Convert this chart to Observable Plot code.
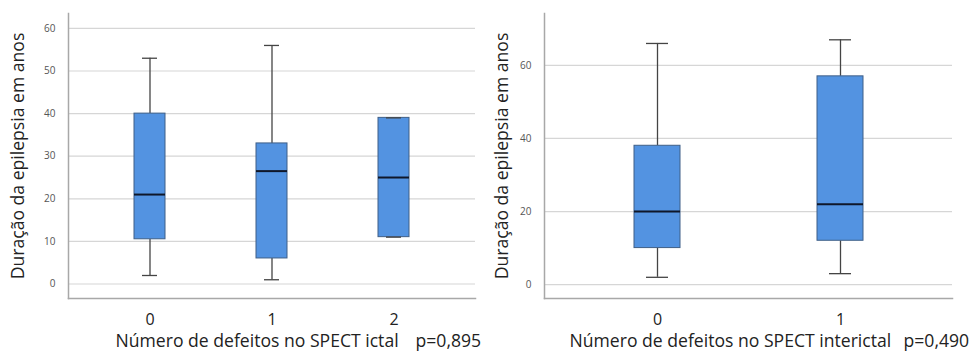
<!DOCTYPE html>
<html>
<head>
<meta charset="utf-8">
<script src="https://cdn.jsdelivr.net/npm/d3@7"></script>
<script src="https://cdn.jsdelivr.net/npm/@observablehq/plot@0.6"></script>
<style>
  html, body { margin: 0; padding: 0; background: #fff; }
  #wrap { position: relative; width: 971px; height: 352px; overflow: hidden; }
  #left, #right { position: absolute; top: 0; }
  #left { left: 0; }
  #right { left: 485px; }
  svg { overflow: visible; }
</style>
</head>
<body>
<div id="wrap"><div id="left"></div><div id="right"></div></div>
<script>
// Duration of epilepsy (years) by number of SPECT defects — five-number summaries
const ictalCategories = ["0", "1", "2"];
const ictalMin    = [2, 1, 11];
const ictalQ1     = [10.5, 6, 11];
const ictalMedian = [21, 26.5, 25];
const ictalQ3     = [40, 33, 39];
const ictalMax    = [53, 56, 39];
const ictalP = "p=0,895";

const interictalCategories = ["0", "1"];
const interictalMin    = [2, 3];
const interictalQ1     = [10, 12];
const interictalMedian = [20, 22];
const interictalQ3     = [38, 57];
const interictalMax    = [66, 67];
const interictalP = "p=0,490";

const yTicksIctal = [0, 10, 20, 30, 40, 50, 60];
const yTicksInterictal = [0, 20, 40, 60];

const yLabel = "Duração da epilepsia em anos";
const FONT = "Open Sans, sans-serif";

function summarize(cats, mn, q1, md, q3, mx) {
  return cats.map((c, i) => ({cat: c, min: mn[i], q1: q1[i], median: md[i], q3: q3[i], max: mx[i]}));
}

function boxPanel({rows, cats, width, marginLeft, marginRight, yDomain, yTicks, paddingOuter,
                   capInset, xLabel, xLabelDx, pText, pDx, yLabelDx}) {
  return Plot.plot({
    width, height: 352,
    marginTop: 13, marginBottom: 54, marginLeft, marginRight,
    style: {fontFamily: FONT, background: "white", overflow: "visible"},
    x: {type: "band", domain: cats, paddingInner: 0.75, paddingOuter, label: null},
    y: {domain: yDomain, label: null},
    marks: [
      Plot.gridY(yTicks, {stroke: "#d6d6d6", strokeOpacity: 1, strokeWidth: 1.2}),
      Plot.frame({anchor: "left", stroke: "#a8a8a8", strokeWidth: 1.5}),
      Plot.frame({anchor: "bottom", stroke: "#a8a8a8", strokeWidth: 1.5}),
      Plot.axisY(yTicks, {tickSize: 0, tickPadding: 13, fontSize: 10, fill: "#555", label: null}),
      Plot.axisX({tickSize: 0, tickPadding: 15, fontSize: 16, fill: "#222", label: null}),
      // whiskers
      Plot.ruleX(rows, {x: "cat", y1: "min", y2: "q1", stroke: "#444", strokeWidth: 1.3}),
      Plot.ruleX(rows, {x: "cat", y1: "q3", y2: "max", stroke: "#444", strokeWidth: 1.3}),
      // boxes
      Plot.barY(rows, {x: "cat", y1: "q1", y2: "q3", fill: "#5393e1", stroke: "#3f5f87", strokeWidth: 1}),
      // whisker caps
      Plot.tickY(rows, {x: "cat", y: "min", stroke: "#444", strokeWidth: 1.3, insetLeft: capInset, insetRight: capInset}),
      Plot.tickY(rows, {x: "cat", y: "max", stroke: "#444", strokeWidth: 1.3, insetLeft: capInset, insetRight: capInset}),
      // medians
      Plot.tickY(rows, {x: "cat", y: "median", stroke: "#0f1729", strokeWidth: 2}),
      // axis titles
      Plot.text([yLabel], {frameAnchor: "left", rotate: -90, textAnchor: "middle", lineAnchor: "middle",
                           dx: yLabelDx, fontSize: 17.6, fill: "#222"}),
      Plot.text([xLabel], {frameAnchor: "bottom-left", textAnchor: "start", lineAnchor: "middle",
                           dx: xLabelDx, dy: 43, fontSize: 17.6, fill: "#222"}),
      Plot.text([pText], {frameAnchor: "bottom-left", textAnchor: "start", lineAnchor: "middle",
                          dx: pDx, dy: 43, fontSize: 17.6, fill: "#222"})
    ]
  });
}

document.getElementById("left").append(boxPanel({
  rows: summarize(ictalCategories, ictalMin, ictalQ1, ictalMedian, ictalQ3, ictalMax),
  cats: ictalCategories,
  width: 485, marginLeft: 68, marginRight: 10,
  yDomain: [-3.4, 63.5], yTicks: yTicksIctal,
  paddingOuter: 0.543, capInset: 8,
  xLabel: "Número de defeitos no SPECT ictal", xLabelDx: 47,
  pText: ictalP, pDx: 347, yLabelDx: -50
}));

document.getElementById("right").append(boxPanel({
  rows: summarize(interictalCategories, interictalMin, interictalQ1, interictalMedian, interictalQ3, interictalMax),
  cats: interictalCategories,
  width: 486, marginLeft: 59, marginRight: 19,
  yDomain: [-3.8, 74.2], yTicks: yTicksInterictal,
  paddingOuter: 0.484, capInset: 12,
  xLabel: "Número de defeitos no SPECT interictal", xLabelDx: 25,
  pText: interictalP, pDx: 359, yLabelDx: -42
}));
</script>
</body>
</html>
